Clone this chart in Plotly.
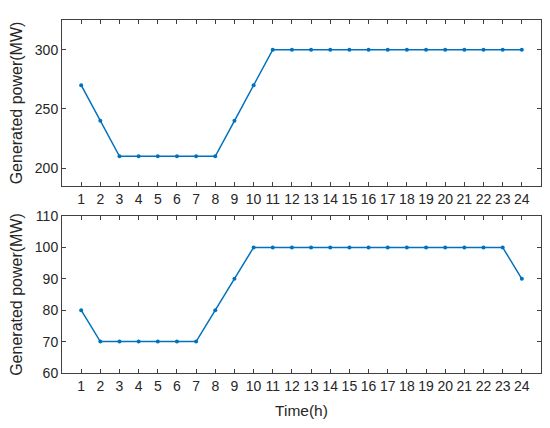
import plotly.graph_objects as go

hours = list(range(1, 25))
unit1_power = [270, 240, 210, 210, 210, 210, 210, 210, 240, 270, 300, 300,
               300, 300, 300, 300, 300, 300, 300, 300, 300, 300, 300, 300]
unit2_power = [80, 70, 70, 70, 70, 70, 70, 80, 90, 100, 100, 100,
               100, 100, 100, 100, 100, 100, 100, 100, 100, 100, 100, 90]
x_ticks = list(range(1, 25))
y1_ticks = [200, 250, 300]
y2_ticks = [60, 70, 80, 90, 100, 110]

line_color = "#0072BD"
axis_color = "#404040"
text_color = "#262626"
font_family = "Arial, Liberation Sans, Helvetica, sans-serif"

fig = go.Figure()
fig.add_trace(go.Scatter(x=hours, y=unit1_power, mode="lines+markers",
                         line=dict(color=line_color, width=1.5),
                         marker=dict(color=line_color, size=4),
                         xaxis="x", yaxis="y", showlegend=False))
fig.add_trace(go.Scatter(x=hours, y=unit2_power, mode="lines+markers",
                         line=dict(color=line_color, width=1.5),
                         marker=dict(color=line_color, size=4),
                         xaxis="x2", yaxis="y2", showlegend=False))

axis_common = dict(showline=True, linecolor=axis_color, linewidth=1,
                   mirror="allticks", ticks="inside", ticklen=4,
                   tickcolor=axis_color, tickwidth=1, showgrid=False,
                   zeroline=False, automargin=False,
                   tickfont=dict(size=14, color=text_color,
                                 family=font_family))

top_dom = [0.5297, 1.0]
bot_dom = [0.0, 0.4448]

fig.update_layout(
    width=550, height=428,
    margin=dict(l=62, r=9, t=20, b=55),
    paper_bgcolor="white", plot_bgcolor="white",
    font=dict(family=font_family, color=text_color, size=14),
    xaxis=dict(range=[0, 25], tickvals=x_ticks, domain=[0, 1],
               anchor="y", **axis_common),
    yaxis=dict(range=[185, 325], tickvals=y1_ticks, domain=top_dom,
               anchor="x",
               title=dict(text="Generated power(MW)", standoff=8,
                          font=dict(size=16, color=text_color)),
               **axis_common),
    xaxis2=dict(range=[0, 25], tickvals=x_ticks, domain=[0, 1],
                anchor="y2",
                title=dict(text="Time(h)", standoff=12,
                           font=dict(size=15.5, color=text_color)),
                **axis_common),
    yaxis2=dict(range=[60, 110], tickvals=y2_ticks, domain=bot_dom,
                anchor="x2",
                title=dict(text="Generated power(MW)", standoff=8,
                           font=dict(size=16, color=text_color)),
                **axis_common),
)

fig.write_html("out.html",
               config={"displayModeBar": False, "staticPlot": True},
               post_script="document.body.style.margin='0';"
                           "document.body.style.overflow='hidden';")
